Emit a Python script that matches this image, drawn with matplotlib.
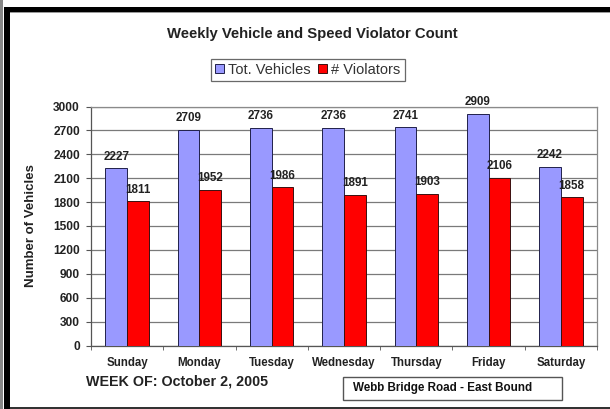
import numpy as np
from matplotlib import pyplot as plt
from matplotlib.patches import Rectangle


days = ['Sunday', 'Monday', 'Tuesday', 'Wednesday', 'Thursday', 'Friday', 'Saturday']
tot_vehicles = [2227, 2709, 2736, 2736, 2741, 2909, 2242]
violators = [1811, 1952, 1986, 1891, 1903, 2106, 1858]
y_ticks = [0, 300, 600, 900, 1200, 1500, 1800, 2100, 2400, 2700, 3000]

plt.rcParams['font.family'] = ['Liberation Sans', 'DejaVu Sans']

fig = plt.figure(figsize=(6.1, 4.09), dpi=100)
fig.patch.set_facecolor('white')

ax = fig.add_axes([91 / 610, 63.5 / 409, 506 / 610, 239 / 409])

x = np.arange(len(days))
w = 0.3
b1 = ax.bar(x - w / 2, tot_vehicles, w, color='#9999ff', edgecolor='#20204a',
            linewidth=0.7, label='Tot. Vehicles', zorder=3)
b2 = ax.bar(x + w / 2, violators, w, color='#ff0000', edgecolor='#3a1010',
            linewidth=0.7, label='# Violators', zorder=3)

# value labels over each bar
for bars in (b1, b2):
    for r in bars:
        ax.annotate(str(int(r.get_height())),
                    (r.get_x() + r.get_width() / 2, r.get_height()),
                    xytext=(0, 4), textcoords='offset points',
                    ha='center', va='bottom', fontsize=8.4, fontweight='bold',
                    color='#222222', zorder=4)

ax.set_xlim(-0.5, len(days) - 0.5)
ax.set_ylim(0, 3000)
ax.set_yticks(y_ticks)
ax.set_yticklabels([str(v) for v in y_ticks], fontsize=8.6, fontweight='bold', color='#222222')
ax.set_xticks(x)
ax.set_xticklabels(days, fontsize=8.3, fontweight='bold', color='#222222')
ax.set_xticks(np.arange(-0.5, len(days)), minor=True)
ax.tick_params(axis='x', which='major', length=0, pad=8)
ax.tick_params(axis='x', which='minor', length=3, color='#555555', direction='out')
ax.tick_params(axis='y', length=3.6, color='#555555', pad=4.3)

ax.grid(axis='y', color='#7a7a7a', linewidth=0.9, zorder=0)
for s in ax.spines.values():
    s.set_color('#8a8a8a')
    s.set_linewidth(0.9)
ax.spines['left'].set_color('#555555')
ax.spines['bottom'].set_color('#555555')

ax.set_ylabel('Number of Vehicles', fontsize=9.5, fontweight='bold', color='#222222')
ax.yaxis.set_label_coords(37 / 610, 183 / 409, transform=fig.transFigure)

fig.text(312 / 610, 1 - 34 / 409, 'Weekly Vehicle and Speed Violator Count',
         ha='center', va='center', fontsize=10.7, fontweight='bold', color='#222222')

leg = fig.legend(handles=[b1, b2], loc='center', bbox_to_anchor=(308 / 610, 1 - 70 / 409),
                 ncol=2, fontsize=10.5, frameon=True, fancybox=False,
                 handlelength=0.6, handleheight=0.6, handletextpad=0.3,
                 columnspacing=0.5, borderpad=0.3, borderaxespad=0)
leg.get_frame().set_edgecolor('#444444')
leg.get_frame().set_linewidth(0.9)
for t in leg.get_texts():
    t.set_color('#333333')

fig.text(86 / 610, 1 - 381.7 / 409, 'WEEK OF: October 2, 2005',
         ha='left', va='center', fontsize=10.3, fontweight='bold', color='#222222')

fig.patches.append(Rectangle((343 / 610, 9 / 409), 219 / 610, 23 / 409,
                             transform=fig.transFigure, facecolor='white',
                             edgecolor='#555555', linewidth=1))
fig.text(353 / 610, 1 - 388.5 / 409, 'Webb Bridge Road - East Bound',
         ha='left', va='center', fontsize=8.4, fontweight='bold', color='#111111')

# outer frame
fig.patches.append(Rectangle((0, 0), 3 / 610, 1, transform=fig.transFigure,
                             facecolor='#888888', edgecolor='none'))
fig.patches.append(Rectangle((4 / 610, 0), 6 / 610, 402 / 409, transform=fig.transFigure,
                             facecolor='black', edgecolor='none'))
fig.patches.append(Rectangle((4 / 610, 397 / 409), 606 / 610, 5 / 409, transform=fig.transFigure,
                             facecolor='black', edgecolor='none'))
fig.patches.append(Rectangle((10 / 610, 396 / 409), 600 / 610, 1 / 409, transform=fig.transFigure,
                             facecolor='#999999', edgecolor='none'))
fig.patches.append(Rectangle((10 / 610, 0), 600 / 610, 2.5 / 409, transform=fig.transFigure,
                             facecolor='#333333', edgecolor='none'))

fig.savefig('out.png', dpi=100)
